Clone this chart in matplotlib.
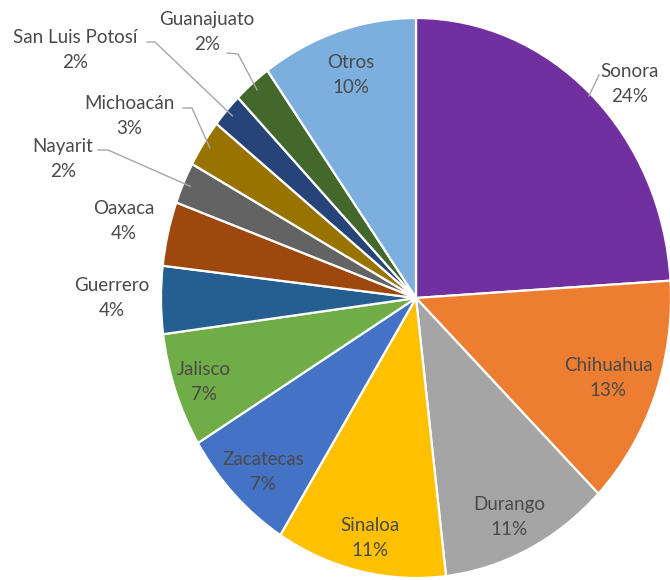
import numpy as np
import matplotlib.pyplot as plt

estados = ["Sonora", "Chihuahua", "Durango", "Sinaloa", "Zacatecas", "Jalisco",
           "Guerrero", "Oaxaca", "Nayarit", "Michoacán", "San Luis Potosí",
           "Guanajuato", "Otros"]
valores = [24.0, 13.3, 10.8, 10.8, 7.4, 6.6, 3.9, 3.7, 2.4, 2.75, 2.0, 2.4, 9.9]
colores = ["#7030A0", "#ED7D31", "#A5A5A5", "#FFC000", "#4472C4", "#70AD47",
           "#255E91", "#9E480E", "#636363", "#997300", "#264478", "#43682B",
           "#7CAFDD"]

# pie centre and radii in pixels (the chart is a bit stretched vertically)
cx, cy, rx, ry = 416, 298, 255, 280
W, H = 670, 580

def px(x, y):
    return (x - cx) / rx, (cy - y) / ry

# label centres in pixels
pos_etiquetas = [(630, 84), (608, 378), (509, 517), (370, 538), (263, 472),
                 (204, 382), (112, 298), (124, 221), (63, 159), (129, 116),
                 (75, 50), (207, 32), (351, 75)]
# leader lines: start and elbow in pixels
guias = {0: [(599, 75), (599, 75)],
         8: [(98, 150), (108, 150)],
         9: [(183, 108), (192, 108)],
         10: [(147, 42), (155, 42)],
         11: [(227, 53), (238, 54)]}

fig = plt.figure(figsize=(W / 100, H / 100), dpi=100)
ax = fig.add_axes([0, 0, 1, 1])
wedges, _ = ax.pie(valores, colors=colores, startangle=90, counterclock=False,
                   wedgeprops=dict(edgecolor="white", linewidth=1.6))
ax.set_aspect("auto")
ax.set_xlim(px(0, 0)[0], px(W, 0)[0])
ax.set_ylim(px(0, H)[1], px(0, 0)[1])
ax.axis("off")

total = sum(valores)
for i, (nombre, v) in enumerate(zip(estados, valores)):
    x, y = px(*pos_etiquetas[i])
    ax.text(x, y, f"{nombre}\n{v / total * 100:.0f}%", ha="center", va="center",
            fontsize=13.5, color="#4A4A4A", family="Lato", linespacing=1.55)
    if i in guias:
        w = wedges[i]
        ang = np.deg2rad((w.theta1 + w.theta2) / 2)
        r = 0.97 if i != 0 else 0.99
        fin = (r * np.cos(ang), r * np.sin(ang))
        p0 = px(*guias[i][0])
        p1 = px(*guias[i][1])
        ax.plot([p0[0], p1[0], fin[0]], [p0[1], p1[1], fin[1]],
                color="#A6A6A6", linewidth=1.0, clip_on=False)

fig.savefig("out.png", dpi=100)
